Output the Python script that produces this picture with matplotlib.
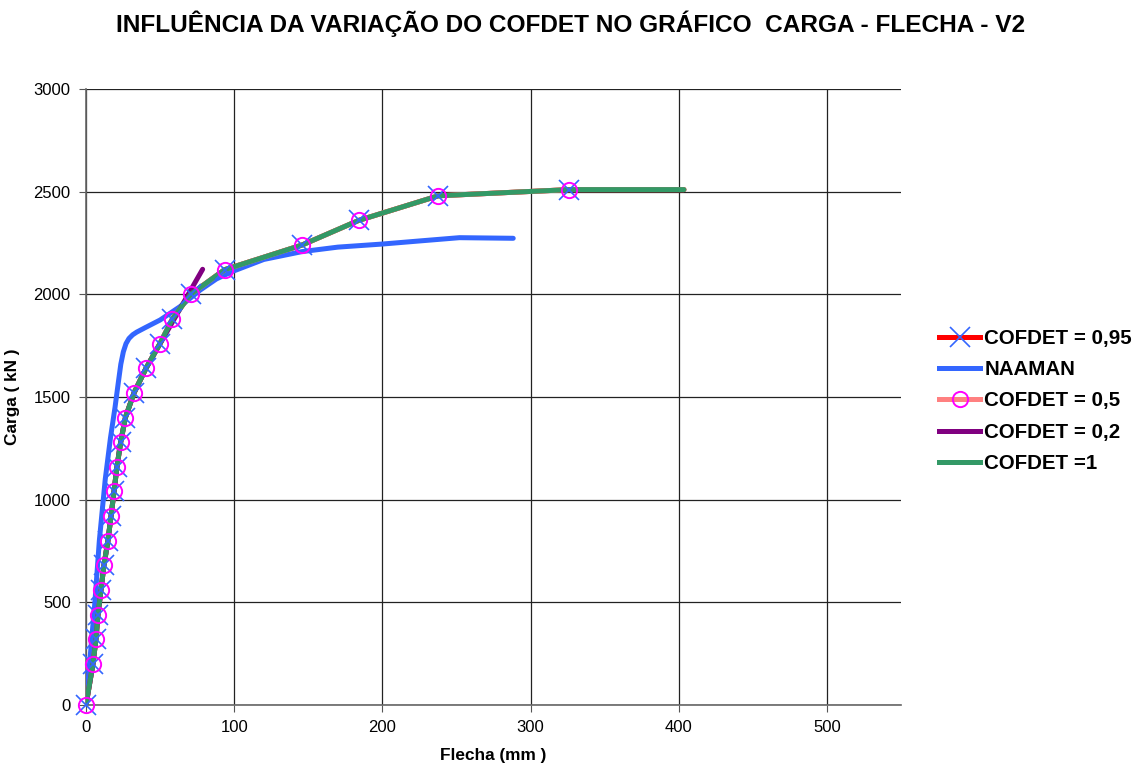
import matplotlib
matplotlib.use("Agg")
import matplotlib.pyplot as plt
from matplotlib.lines import Line2D

plt.rcParams['font.family'] = ['Liberation Sans', 'DejaVu Sans']

# COFDET = 0,95 and 0,5 and 1 (curves overlap)
cof_x = [0, 4.7, 6.7, 8.1, 10.1, 12.1, 14.8, 16.9, 18.9, 20.9, 23.4, 26.6,
         32.4, 40.5, 49.9, 58.3, 70.6, 93.5, 145.7, 184, 237.8, 325.9, 403.5]
cof_y = [0, 200, 320, 440, 560, 680, 800, 920, 1040, 1160, 1280, 1400,
         1520, 1640, 1760, 1880, 2000, 2120, 2240, 2360, 2480, 2510, 2510]

# markers only on points up to 325.9
mark_x = cof_x[:-1]
mark_y = cof_y[:-1]

# NAAMAN
naa_x = [0, 3, 6, 9, 13, 16.5, 19.6, 21.8, 23.5, 25.2, 27, 29, 31.5, 34.2,
         40, 50, 63.4, 76.9, 88, 99, 120, 145.7, 170, 200, 225, 252, 288.3]
naa_y = [0, 250, 500, 800, 1100, 1300, 1450, 1570, 1660, 1720, 1760, 1785,
         1803, 1816, 1838, 1875, 1940, 2020, 2075, 2112, 2170, 2208, 2230,
         2245, 2260, 2276, 2273]

# COFDET = 0,2
c02_x = [0, 4.7, 6.7, 8.1, 10.1, 12.1, 14.8, 16.9, 18.9, 20.9, 23.4, 26.6,
         32.4, 40.5, 78.7]
c02_y = [0, 200, 320, 440, 560, 680, 800, 920, 1040, 1160, 1280, 1400,
         1520, 1640, 2122]

x_ticks = [0, 100, 200, 300, 400, 500]
y_ticks = [0, 500, 1000, 1500, 2000, 2500, 3000]

fig = plt.figure(figsize=(11.42, 7.70), dpi=100)
ax = fig.add_axes([0.0753, 0.0844, 0.7137, 0.8000])

lw = 3.6
ax.plot(cof_x, cof_y, color='#ff0000', lw=lw, zorder=3, solid_capstyle='round', solid_joinstyle='round')
ax.plot(naa_x, naa_y, color='#3366ff', lw=lw, zorder=4, solid_capstyle='round', solid_joinstyle='round')
ax.plot(cof_x, cof_y, color='#ff8080', lw=lw, zorder=5, solid_capstyle='round', solid_joinstyle='round')
ax.plot(c02_x, c02_y, color='#800080', lw=lw, zorder=6, solid_capstyle='round', solid_joinstyle='round')
ax.plot(cof_x, cof_y, color='#339966', lw=lw, zorder=7, solid_capstyle='round', solid_joinstyle='round')

# markers on top
ax.plot(mark_x, mark_y, ls='none', marker='x', ms=15, mew=1.2,
        color='#3366ff', zorder=8, clip_on=False)
ax.plot(mark_x, mark_y, ls='none', marker='o', ms=11, mew=1.4,
        mfc='none', mec='#ff00ff', zorder=9, clip_on=False)

ax.set_xlim(0, 550)
ax.set_ylim(0, 3000)
ax.set_xticks(x_ticks)
ax.set_yticks(y_ticks)
ax.tick_params(labelsize=12, length=5, width=0.8, color='#555555', pad=6)
ax.grid(True, color='#222222', lw=0.9)
ax.set_axisbelow(True)
for s in ['top', 'right']:
    ax.spines[s].set_visible(False)
for s in ['left', 'bottom']:
    ax.spines[s].set_color('#666666')
    ax.spines[s].set_linewidth(1.2)

ax.set_xlabel('Flecha (mm )', fontsize=12.4, fontweight='bold', labelpad=9)
ax.set_ylabel('Carga ( kN )', fontsize=12.4, fontweight='bold', labelpad=10)
fig.suptitle('INFLUÊNCIA DA VARIAÇÃO DO COFDET NO GRÁFICO  CARGA - FLECHA - V2',
             fontsize=17.6, fontweight='bold', x=0.5, y=0.987)

handles = [
    Line2D([], [], color='#ff0000', lw=lw, marker='x', ms=15, mew=1.2, mec='#3366ff'),
    Line2D([], [], color='#3366ff', lw=lw),
    Line2D([], [], color='#ff8080', lw=lw, marker='o', ms=11, mew=1.4, mfc='none', mec='#ff00ff'),
    Line2D([], [], color='#800080', lw=lw),
    Line2D([], [], color='#339966', lw=lw),
]
labels = ['COFDET = 0,95', 'NAAMAN', 'COFDET = 0,5', 'COFDET = 0,2', 'COFDET =1']
leg = fig.legend(handles, labels, loc='upper left', bbox_to_anchor=(0.806, 0.597),
                 frameon=False, prop={'size': 14.8, 'weight': 'bold'},
                 handlelength=2.0, handletextpad=0.2, labelspacing=0.6)

fig.savefig('out.png', dpi=100)
